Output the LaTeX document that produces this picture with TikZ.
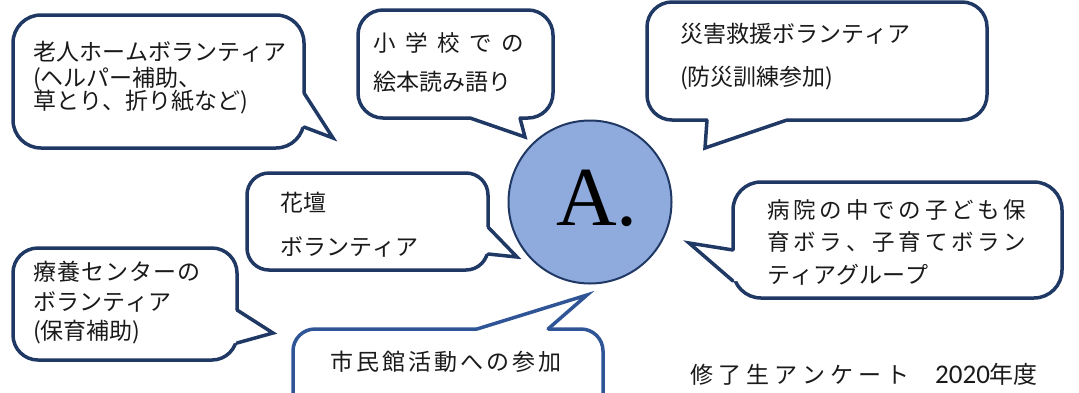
\documentclass[tikz,border=0pt]{standalone}
\usepackage{fontspec}
\usepackage{graphicx}
\usetikzlibrary{calc}
\setmainfont{Liberation Serif}
\newfontfamily\jp{Noto Sans CJK JP}
\newfontfamily\calfont{Carlito}
\definecolor{navy}{HTML}{203864}
\definecolor{midblue}{HTML}{2F5597}
\definecolor{circfill}{HTML}{8FAADC}
\definecolor{ink}{HTML}{1A1A1A}
\def\spcloop#1{\ifx#1\relax\else#1\spcsep\expandafter\spcloop\fi}
\newcommand\spc[2]{\def\spcsep{\kern#1\relax}\spcloop#2\relax}
\tikzset{
  box/.style={draw=navy, line width=3.5pt, fill=white},
  tailline/.style={line width=3.5pt, line join=miter, line cap=round},
  txt/.style={anchor=west, inner sep=0pt, text=ink},
}
\newcommand\calltail[5][navy]{%
  \fill[white] ($#2+#5$) -- #2 -- #3 -- #4 -- ($#4+#5$) -- cycle;
  \draw[tailline, draw=#1] #2 -- #3 -- #4;}
\newcommand\tline[6]{\node[txt, font=\jp\fontsize{#4}{#4}\selectfont] (#1) at (#2,#3) {\spc{#5}{#6}};}
\begin{document}
\begin{tikzpicture}[x=1pt,y=-1pt]
\useasboundingbox (0,0) rectangle (1079,392);
% callout 1
\draw[box, rounded corners=28pt] (13,15) rectangle (304,148);
\calltail{(304,93)}{(333,138)}{(304,127)}{(-5,0)}
% callout 2
\draw[box, rounded corners=25pt] (358,10) rectangle (553,118);
\calltail{(470,118)}{(525,137)}{(520,118)}{(0,-5)}
% callout 3
\draw[box, rounded corners=25pt] (647,2) rectangle (987,120);
\calltail{(787,120)}{(705,148)}{(707,120)}{(0,-5)}
% callout 4
\draw[box, rounded corners=22pt] (247,173) rectangle (488,270);
\calltail{(488,227)}{(517,257)}{(488,254)}{(-5,0)}
% callout 5
\draw[box, rounded corners=28pt] (733,182) rectangle (1062,298);
\calltail{(733,250)}{(689,243)}{(733,281)}{(5,0)}
% callout 6
\draw[box, rounded corners=25pt] (13,248) rectangle (237,360);
\calltail{(237,310)}{(273,333)}{(237,343)}{(-5,0)}
% callout 7
\draw[box, draw=midblue, rounded corners=22pt] (293,329) rectangle (603,420);
\calltail[midblue]{(477,329)}{(587,295)}{(548,329)}{(0,5)}
% hub
\node[circle, draw=navy, line width=2pt, fill=circfill, minimum size=163pt, inner sep=0pt] (hub) at (590,202) {};
\node[inner sep=0pt, font=\fontsize{84}{84}\selectfont] (hubtxt) at (597,198) {A.};
% texts
\tline{c1a}{33}{52}{23}{0pt}{老人ホームボランティア}
\tline{c1b}{33}{79}{23}{0pt}{(ヘルパー補助、}
\tline{c1c}{33}{102}{23}{0pt}{草とり、折り紙など)}
\tline{c2a}{373}{43}{22.5}{9.5pt}{小学校での}
\tline{c2b}{373}{82}{23}{0pt}{絵本読み語り}
\tline{c3a}{680}{34}{23}{0pt}{災害救援ボランティア}
\tline{c3b}{680}{78}{23}{0pt}{(防災訓練参加)}
\tline{c4a}{280}{203}{23}{0pt}{花壇}
\tline{c4b}{280}{247}{23}{0pt}{ボランティア}
\tline{c5a}{767}{210}{22.5}{3.8pt}{病院の中での子ども保}
\tline{c5b}{767}{242}{22.5}{3.8pt}{育ボラ、子育てボラン}
\tline{c5c}{767}{275}{23}{0pt}{ティアグループ}
\tline{c6a}{33}{272}{23}{1pt}{療養センターの}
\tline{c6b}{33}{302}{23}{0pt}{ボランティア}
\tline{c6c}{33}{332}{23}{0pt}{(保育補助)}
\tline{c7a}{330}{362}{23}{3pt}{市民館活動への参加}
\node[txt, font=\jp\fontsize{23}{23}\selectfont] (survey) at (690,374)
  {\spc{5pt}{修了生アンケート}\hspace{21pt}{\calfont\fontsize{27}{27}\selectfont 2020}{\fontsize{24}{24}\selectfont 年度}};
\end{tikzpicture}
\end{document}
